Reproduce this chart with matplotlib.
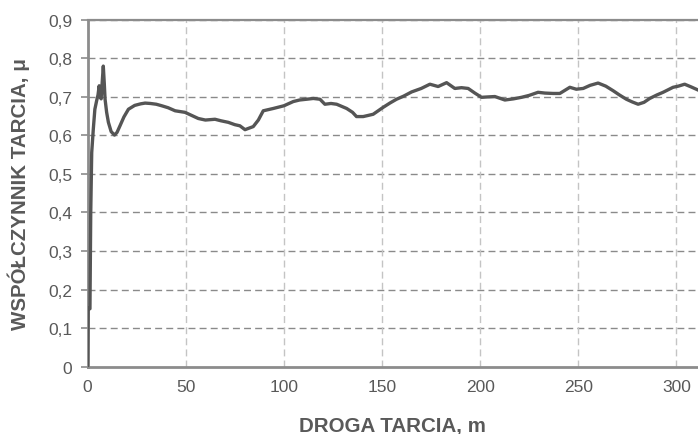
import numpy as np
import matplotlib
matplotlib.use("Agg")
import matplotlib.pyplot as plt

plt.rcParams['font.family'] = ['Liberation Sans', 'DejaVu Sans']

# friction distance [m] and friction coefficient
distance = [0, 0.3, 0.6, 1.2, 1.6, 2.1, 2.9, 3.7, 4.6, 5.3, 5.9, 6.4, 6.9, 7.4, 8.0, 8.5,
            8.9, 9.7, 10.6, 12.0, 13.7, 15.0, 16.5, 18.5, 20.8, 24.0, 27.0, 29.3, 32.0,
            35.0, 37.8, 41.0, 44.6, 49.6, 53.0, 56.4, 60.0, 64.9, 68.0, 71.7, 75.0,
            77.6, 80.2, 84.4, 87.0, 89.5, 94.6, 100.0, 104.8, 108.0, 111.6, 115.0,
            118.4, 120.9, 124.0, 126.9, 132.0, 135.0, 137.0, 140.4, 143.0, 145.5,
            150.6, 154.0, 157.4, 161.0, 165.1, 170.0, 174.4, 178.6, 182.9, 187.1,
            190.5, 193.9, 197.3, 200.7, 204.0, 207.5, 212.6, 217.0, 221.1, 225.0,
            229.5, 233.0, 237.2, 240.6, 245.7, 249.0, 252.5, 256.0, 260.1, 264.0,
            267.8, 271.0, 274.5, 277.5, 280.5, 283.5, 286.4, 290.0, 293.2, 298.3,
            301.0, 304.2, 307.5, 311.0]
mu = [0.0, 0.149, 0.152, 0.150, 0.40, 0.556, 0.616, 0.668, 0.690, 0.705, 0.729, 0.700,
      0.695, 0.735, 0.780, 0.735, 0.694, 0.660, 0.634, 0.610, 0.601, 0.608, 0.625,
      0.648, 0.668, 0.678, 0.682, 0.684, 0.683, 0.681, 0.677, 0.672, 0.664, 0.660,
      0.652, 0.644, 0.640, 0.642, 0.638, 0.634, 0.628, 0.625, 0.615, 0.623, 0.640,
      0.664, 0.670, 0.677, 0.688, 0.692, 0.694, 0.696, 0.694, 0.681, 0.683, 0.681,
      0.670, 0.660, 0.649, 0.649, 0.652, 0.655, 0.673, 0.684, 0.694, 0.702, 0.713,
      0.722, 0.733, 0.727, 0.737, 0.722, 0.724, 0.722, 0.710, 0.699, 0.700, 0.701,
      0.692, 0.695, 0.699, 0.704, 0.712, 0.710, 0.709, 0.709, 0.725, 0.720, 0.722,
      0.730, 0.736, 0.728, 0.716, 0.705, 0.694, 0.687, 0.681, 0.686, 0.696, 0.705,
      0.712, 0.725, 0.728, 0.733, 0.726, 0.718]

x_ticks = [0, 50, 100, 150, 200, 250, 300]
y_ticks = [0, 0.1, 0.2, 0.3, 0.4, 0.5, 0.6, 0.7, 0.8, 0.9]
y_labels = ['0', '0,1', '0,2', '0,3', '0,4', '0,5', '0,6', '0,7', '0,8', '0,9']

text_col = '#595959'
axis_col = '#8c8c8c'

fig = plt.figure(figsize=(6.98, 4.35), dpi=100)
ax = fig.add_axes([0.1255, 0.155, 0.8745, 0.797])

# grid: dark dashed horizontal, lighter dashed vertical
for y in y_ticks[1:]:
    ax.axhline(y, color='#8a8a8a', lw=1.0, ls=(0, (5, 3)), zorder=1)
for x in x_ticks[1:]:
    ax.axvline(x, color='#c4c4c4', lw=1.0, ls=(0, (5, 3)), zorder=1)

ax.plot(distance, mu, color='#555555', lw=2.4, zorder=3, solid_joinstyle='round')

ax.set_xlim(0, 311)
ax.set_ylim(0, 0.9)
ax.set_xticks(x_ticks)
ax.set_xticklabels([str(v) for v in x_ticks])
ax.set_yticks(y_ticks)
ax.set_yticklabels(y_labels)

ax.tick_params(axis='x', length=0, pad=9, labelsize=12.5, labelcolor=text_col)
ax.tick_params(axis='y', length=5, width=1.2, color=axis_col, pad=6,
               labelsize=12.5, labelcolor=text_col)

for side in ['left', 'bottom', 'top']:
    ax.spines[side].set_color(axis_col)
    ax.spines[side].set_linewidth(2.0)
ax.spines['top'].set_linewidth(1.6)
ax.spines['right'].set_visible(False)

ax.set_xlabel('DROGA TARCIA, m', fontsize=14.8, fontweight='bold', color=text_col,
              labelpad=16)
ax.set_ylabel('WSPÓŁCZYNNIK TARCIA, μ', fontsize=14.8, fontweight='bold',
              color=text_col, labelpad=13)

fig.savefig('out.png', dpi=100)
